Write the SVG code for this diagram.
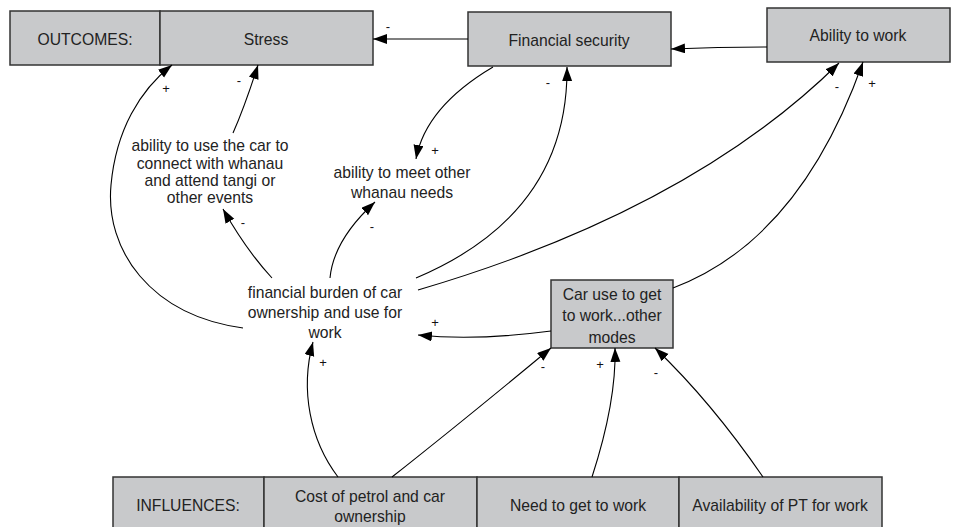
<svg xmlns="http://www.w3.org/2000/svg" width="959" height="527" viewBox="0 0 959 527">
<defs>
<marker id="ah" markerUnits="userSpaceOnUse" markerWidth="16" markerHeight="12" refX="14" refY="5" orient="auto">
<path d="M0,0 L14,5 L0,10 z" fill="#000"/>
</marker>
<style>
.box{fill:#c8c9cb;stroke:#333;stroke-width:1.5}
.t{font-family:"Liberation Sans",Arial,sans-serif;font-size:15.7px;fill:#222;text-anchor:middle}
.l{font-family:"Liberation Sans",Arial,sans-serif;font-size:13px;fill:#111;text-anchor:middle}
.c{fill:none;stroke:#000;stroke-width:1.1;marker-end:url(#ah)}
</style>
</defs>
<rect width="959" height="527" fill="#fff"/>
<g id="outcomes"><rect class="box" x="10" y="11" width="150" height="54"/><text class="t" x="85" y="45">OUTCOMES:</text></g>
<g id="stress"><rect class="box" x="160" y="11" width="213" height="54"/><text class="t" x="266" y="45">Stress</text></g>
<g id="financial-security"><rect class="box" x="468" y="12" width="203" height="54"/><text class="t" x="569" y="46">Financial security</text></g>
<g id="ability-to-work"><rect class="box" x="767" y="8" width="183" height="54"/><text class="t" x="858" y="41">Ability to work</text></g>
<g id="ability-car"><text class="t" x="210" y="151">ability to use the car to</text><text class="t" x="210" y="169">connect with whanau</text><text class="t" x="210" y="186">and attend tangi or</text><text class="t" x="210" y="203">other events</text></g>
<g id="ability-meet"><text class="t" x="402" y="178">ability to meet other</text><text class="t" x="402" y="198">whanau needs</text></g>
<g id="financial-burden"><text class="t" x="325" y="298">financial burden of car</text><text class="t" x="325" y="318">ownership and use for</text><text class="t" x="325" y="338">work</text></g>
<g id="car-use"><rect class="box" x="551" y="280" width="122" height="68"/><text class="t" x="612" y="299.5">Car use to get</text><text class="t" x="612" y="321">to work...other</text><text class="t" x="612" y="342.5">modes</text></g>
<g id="influences"><rect class="box" x="113" y="477" width="151" height="60"/><text class="t" x="188" y="511">INFLUENCES:</text></g>
<g id="cost"><rect class="box" x="264" y="477" width="213" height="60"/><text class="t" x="370" y="502">Cost of petrol and car</text><text class="t" x="370" y="522">ownership</text></g>
<g id="need"><rect class="box" x="477" y="477" width="202" height="60"/><text class="t" x="578" y="511">Need to get to work</text></g>
<g id="availability"><rect class="box" x="679" y="477" width="203" height="60"/><text class="t" x="780" y="511">Availability of PT for work</text></g>
<g id="connectors">
<path class="c" d="M468,39 L373,39"/>
<path class="c" d="M767,47 Q720,47 671,49"/>
<path class="c" d="M493,67 Q425.5,107 416,159"/>
<path class="c" d="M416,278 Q568.5,213.5 567,67"/>
<path class="c" d="M330,278 Q333.5,240 375,202"/>
<path class="c" d="M272,278 Q246.5,250.5 223,209"/>
<path class="c" d="M233,133 Q244.5,107 258,65"/>
<path class="c" d="M243,328 C150,315 105,250 111,185 C116,130 140,90 172,65"/>
<path class="c" d="M418,290 Q690,210 839,63"/>
<path class="c" d="M673,288 Q800,240 863,62"/>
<path class="c" d="M551,331 Q475.5,341 418,335"/>
<path class="c" d="M338,477 C310,440 300,390 313,342"/>
<path class="c" d="M392,477 Q462.5,421.5 551,348"/>
<path class="c" d="M592,477 Q616.5,401.5 615,348"/>
<path class="c" d="M763,477 Q711,401.5 655,348"/>
</g>
<g id="labels">
<text class="l" x="388" y="31">-</text>
<text class="l" x="166" y="93">+</text>
<text class="l" x="239" y="85">-</text>
<text class="l" x="243" y="227">-</text>
<text class="l" x="372" y="231">-</text>
<text class="l" x="435" y="155">+</text>
<text class="l" x="548" y="87">-</text>
<text class="l" x="837" y="91">-</text>
<text class="l" x="872" y="88">+</text>
<text class="l" x="435" y="327">+</text>
<text class="l" x="323" y="367">+</text>
<text class="l" x="543" y="371">-</text>
<text class="l" x="600" y="369">+</text>
<text class="l" x="656" y="377">-</text>
</g>
</svg>
